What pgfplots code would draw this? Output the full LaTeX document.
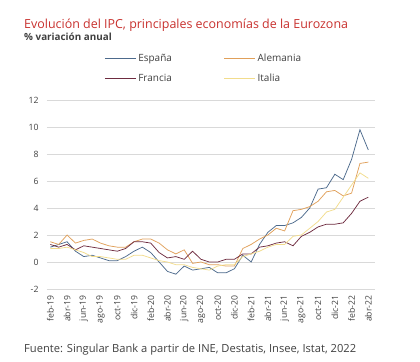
\documentclass[border=0pt]{standalone}
\usepackage{pgfplots}
\pgfplotsset{compat=1.18}
\usepackage{fontspec}
\setmainfont{Open Sans}
\definecolor{esp}{HTML}{4D6A8C}
\definecolor{ale}{HTML}{E0A05A}
\definecolor{fra}{HTML}{6E2C40}
\definecolor{ita}{HTML}{F2DC8C}
\definecolor{ttl}{HTML}{C8312E}
\definecolor{txt}{HTML}{404040}
\definecolor{grd}{HTML}{D9D9D9}
\begin{document}
\begin{tikzpicture}[x=1bp,y=1bp]
\useasboundingbox (0,0) rectangle (420,362);
\node[anchor=base west,text=ttl,font=\fontsize{12.5}{14}\selectfont,inner sep=0] at (24,334) {Evolución del IPC, principales economías de la Eurozona};
\node[anchor=base west,text=txt,font=\fontsize{9.9}{11}\selectfont\bfseries,inner sep=0] at (24,322) {\% variación anual};
\node[anchor=base west,text=txt,font=\fontsize{11.2}{13}\selectfont,inner sep=0] at (24,10) {Fuente: Singular Bank a partir de INE, Destatis, Insee, Istat, 2022};
\begin{axis}[
  at={(47bp,73bp)}, anchor=south west,
  width=328bp, height=189bp, scale only axis,
  xmin=-0.4, xmax=38.8, ymin=-2, ymax=12,
  axis line style={draw=none},
  ytick={-2,0,2,4,6,8,10,12},
  ymajorgrids, grid style={grd, line width=0.6pt},
  major tick length=0pt,
  xtick={0,2,...,38},
  xticklabels={feb-19,abr-19,jun-19,ago-19,oct-19,dic-19,feb-20,abr-20,jun-20,ago-20,oct-20,dic-20,feb-21,abr-21,jun-21,ago-21,oct-21,dic-21,feb-22,abr-22},
  x tick label style={rotate=90, anchor=east, font=\fontsize{8.7}{10}\selectfont, text=txt},
  y tick label style={font=\fontsize{8.7}{10}\selectfont, text=txt},
  xticklabel shift=3bp, yticklabel shift=5bp,
  /pgf/number format/assume math mode=true,
  legend columns=2,
  legend cell align=left,
  legend style={at={(0.175,1.252)}, anchor=north west, draw=none, fill=none,
    inner sep=0pt,
    font=\fontsize{10}{12}\selectfont, text=txt,
    nodes={inner xsep=2bp, inner ysep=1.5bp},
    /tikz/every even column/.append style={column sep=50bp},
    row sep=8bp},
  legend image code/.code={\draw[#1] (0bp,0bp) -- (31bp,0bp);},
  every axis plot/.append style={line width=0.75pt},
]
\addplot[esp] coordinates {(0,1.1)(1,1.3)(2,1.5)(3,0.8)(4,0.4)(5,0.5)(6,0.3)(7,0.1)(8,0.1)(9,0.4)(10,0.8)(11,1.1)(12,0.7)(13,0.0)(14,-0.7)(15,-0.9)(16,-0.3)(17,-0.6)(18,-0.5)(19,-0.4)(20,-0.8)(21,-0.8)(22,-0.5)(23,0.5)(24,0.0)(25,1.3)(26,2.2)(27,2.7)(28,2.7)(29,2.9)(30,3.3)(31,4.0)(32,5.4)(33,5.5)(34,6.5)(35,6.1)(36,7.6)(37,9.8)(38,8.3)};
\addlegendentry{España}
\addplot[ale] coordinates {(0,1.5)(1,1.3)(2,2.0)(3,1.4)(4,1.6)(5,1.7)(6,1.4)(7,1.2)(8,1.1)(9,1.1)(10,1.5)(11,1.7)(12,1.7)(13,1.4)(14,0.9)(15,0.6)(16,0.9)(17,-0.1)(18,0.0)(19,-0.2)(20,-0.2)(21,-0.3)(22,-0.3)(23,1.0)(24,1.3)(25,1.7)(26,2.0)(27,2.5)(28,2.3)(29,3.8)(30,3.9)(31,4.1)(32,4.5)(33,5.2)(34,5.3)(35,4.9)(36,5.1)(37,7.3)(38,7.4)};
\addlegendentry{Alemania}
\addplot[fra] coordinates {(0,1.3)(1,1.1)(2,1.3)(3,0.9)(4,1.2)(5,1.1)(6,1.0)(7,0.9)(8,0.8)(9,1.0)(10,1.5)(11,1.5)(12,1.4)(13,0.7)(14,0.3)(15,0.4)(16,0.2)(17,0.8)(18,0.2)(19,0.0)(20,0.0)(21,0.2)(22,0.2)(23,0.6)(24,0.6)(25,1.1)(26,1.2)(27,1.4)(28,1.5)(29,1.2)(30,1.9)(31,2.2)(32,2.6)(33,2.8)(34,2.8)(35,2.9)(36,3.6)(37,4.5)(38,4.8)};
\addlegendentry{Francia}
\addplot[ita] coordinates {(0,1.0)(1,1.0)(2,1.1)(3,0.9)(4,0.7)(5,0.4)(6,0.4)(7,0.3)(8,0.2)(9,0.2)(10,0.5)(11,0.5)(12,0.3)(13,0.1)(14,0.0)(15,-0.2)(16,-0.2)(17,-0.4)(18,-0.5)(19,-0.6)(20,-0.3)(21,-0.2)(22,-0.2)(23,0.4)(24,0.6)(25,0.8)(26,1.1)(27,1.3)(28,1.3)(29,1.9)(30,2.0)(31,2.5)(32,3.0)(33,3.7)(34,3.9)(35,4.8)(36,5.7)(37,6.6)(38,6.2)};
\addlegendentry{Italia}
\end{axis}
\end{tikzpicture}
\end{document}
